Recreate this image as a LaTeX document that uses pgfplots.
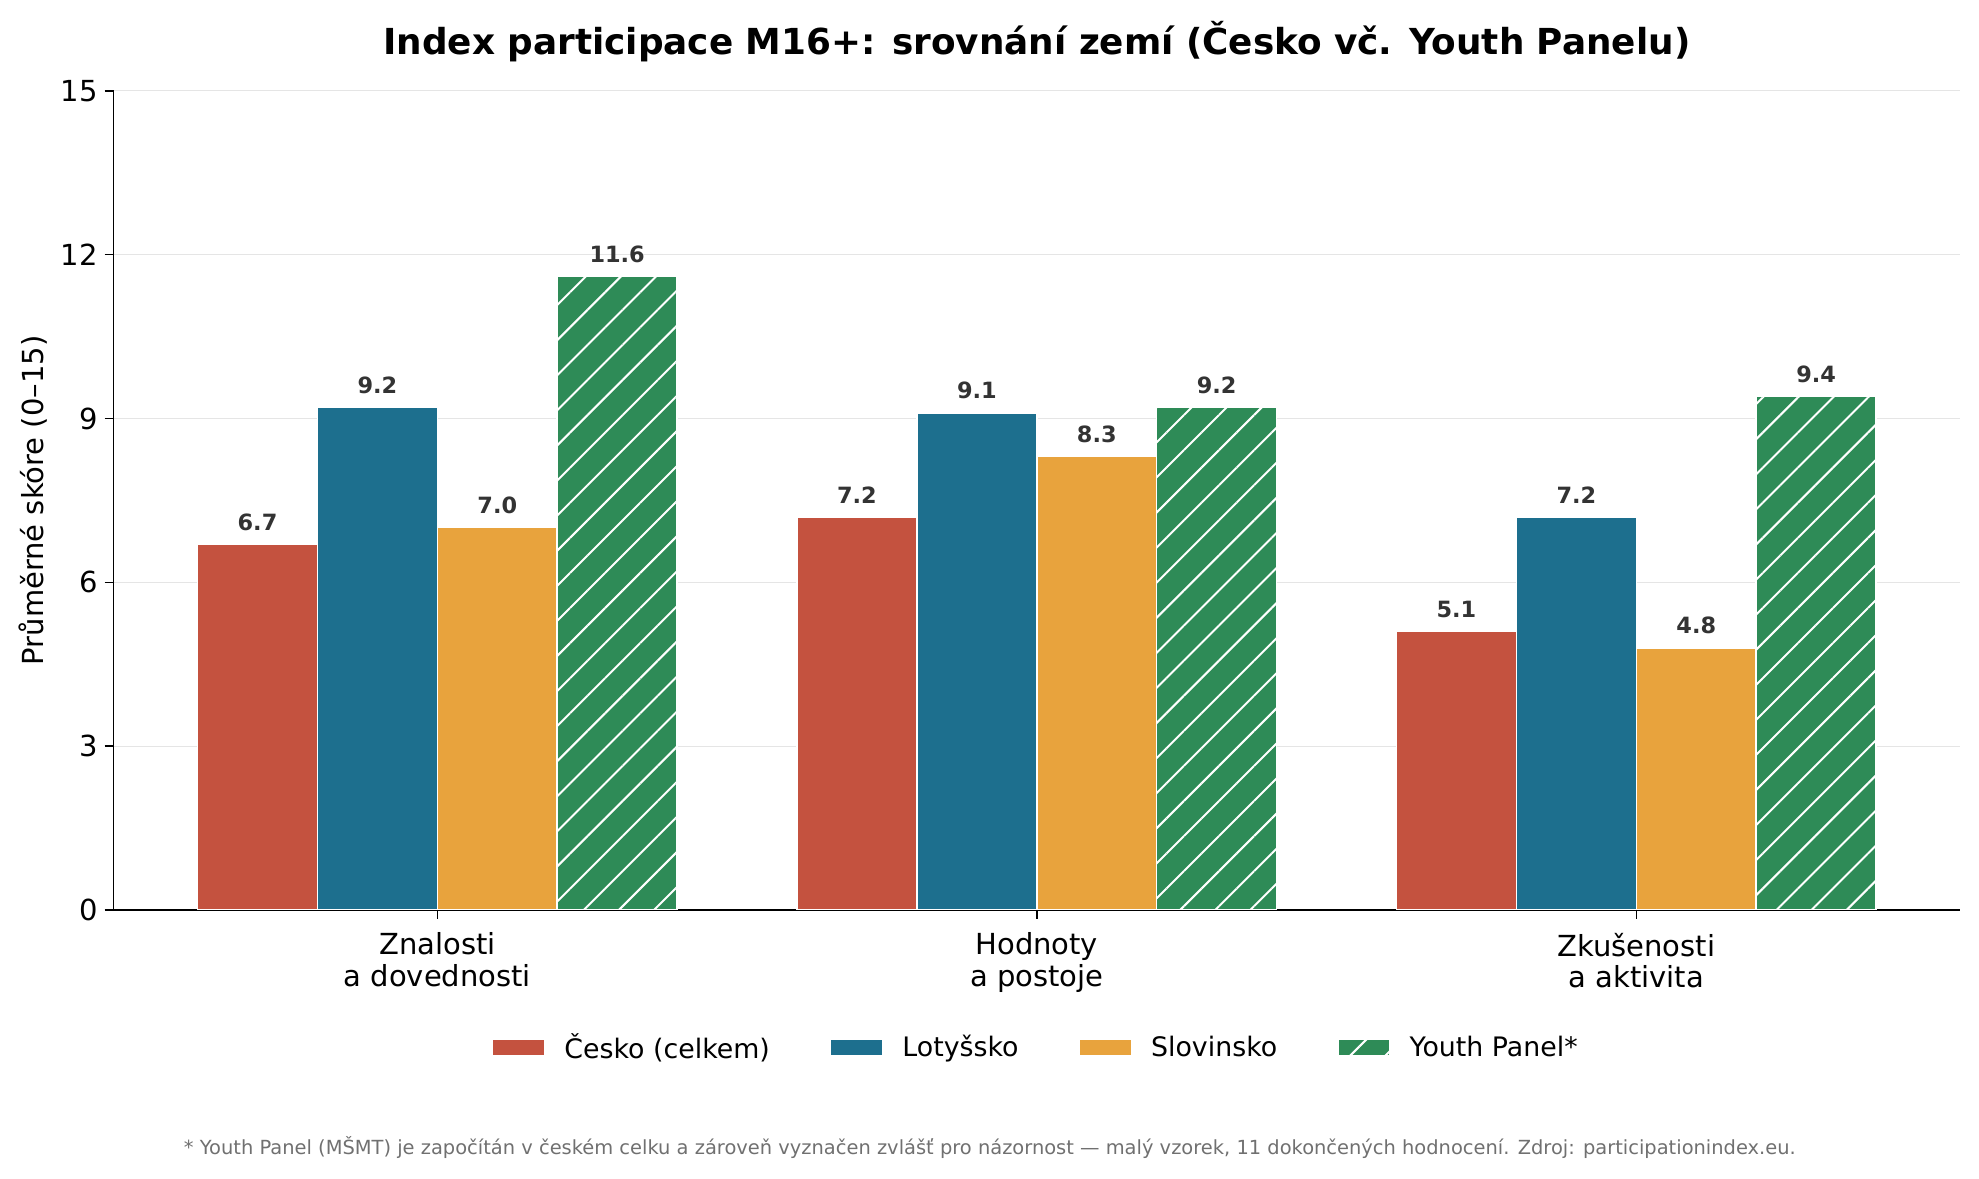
\documentclass[border=0pt]{standalone}
\usepackage{fontspec}
\setmainfont{DejaVu Sans}
\usepackage{pgfplots}
\pgfplotsset{compat=1.18}
\usetikzlibrary{patterns.meta}
\definecolor{cred}{HTML}{C4523F}
\definecolor{cblue}{HTML}{1D6F8E}
\definecolor{corange}{HTML}{E8A33D}
\definecolor{cgreen}{HTML}{2E8B57}
\definecolor{lbl}{HTML}{333333}
\definecolor{foot}{HTML}{707070}
\pgfplotsset{
  mylegend/.style={legend image code/.code={\draw[##1] (0pt,-4.1pt) rectangle (26pt,4.1pt);}},
  mybar/.style={ybar, bar width=0.2, bar shift=0pt, draw=white, line width=0.75pt},
}
\begin{document}
\begin{tikzpicture}
\useasboundingbox (-56.8pt,-134pt) rectangle (932.5pt,454.9pt);
\begin{axis}[
  at={(0,0)}, anchor=south west, scale only axis,
  width=923pt, height=409.5pt,
  xmin=-0.54, xmax=2.54, ymin=0, ymax=15,
  axis x line*=bottom, axis y line*=left,
  axis line style={-, line width=0.8pt, black},
  tick align=outside, major tick length=4.5pt,
  tick style={line width=0.8pt, black},
  ytick={0,3,6,9,12,15},
  xtick={0,1,2},
  xticklabels={{Znalosti\\a dovednosti},{Hodnoty\\a postoje},{Zkušenosti\\a aktivita}},
  xticklabel style={align=center, font=\fontsize{14.5}{15.8}\selectfont, yshift=-3.4pt},
  yticklabel style={font=\fontsize{14.5}{17}\selectfont},
  /pgf/number format/assume math mode=true,
  ymajorgrids, major grid style={line width=0.5pt, color=black!10},
  every axis y label/.style={at={(axis description cs:0,0.5)}, xshift=-40.4pt, rotate=90, anchor=center},
  ylabel={\fontsize{14.5}{17}\selectfont Průměrné skóre (0–15)},
  nodes near coords={\pgfmathprintnumber[fixed,fixed zerofill,precision=1]{\pgfplotspointmeta}},
  every node near coord/.append style={font=\fontsize{11.2}{13}\selectfont\bfseries, text=lbl, anchor=south, inner sep=0pt, yshift=6.5pt},
  legend columns=4,
  legend style={at={(0.5,-0.1679)}, anchor=center, draw=none, font=\fontsize{13.4}{16}\selectfont,
    /tikz/every odd column/.append style={column sep=7.5pt},
    /tikz/every even column/.append style={column sep=28pt}},
  legend cell align=left,
]
\addplot[mybar, fill=cred, mylegend] coordinates {(-0.3,6.7) (0.7,7.2) (1.7,5.1)};
\addplot[mybar, fill=cblue, mylegend] coordinates {(-0.1,9.2) (0.9,9.1) (1.9,7.2)};
\addplot[mybar, fill=corange, mylegend] coordinates {(0.1,7.0) (1.1,8.3) (2.1,4.8)};
\addplot[mybar, fill=cgreen, postaction={pattern={Lines[angle=45,distance=12.4pt,line width=1pt]}, pattern color=white}, mylegend] coordinates {(0.3,11.6) (1.3,9.2) (2.3,9.4)};
\legend{Česko (celkem), Lotyšsko, Slovinsko, Youth Panel*}
\end{axis}
\node[font=\fontsize{17.9}{22}\selectfont\bfseries] at (461.5pt,433.9pt) {Index participace M16+: srovnání zemí (Česko vč. Youth Panelu)};
\node[font=\fontsize{9.72}{12}\selectfont, text=foot] at (438pt,-118.5pt) {* Youth Panel (MŠMT) je započítán v českém celku a zároveň vyznačen zvlášť pro názornost — malý vzorek, 11 dokončených hodnocení. Zdroj: participationindex.eu.};
\end{tikzpicture}
\end{document}
